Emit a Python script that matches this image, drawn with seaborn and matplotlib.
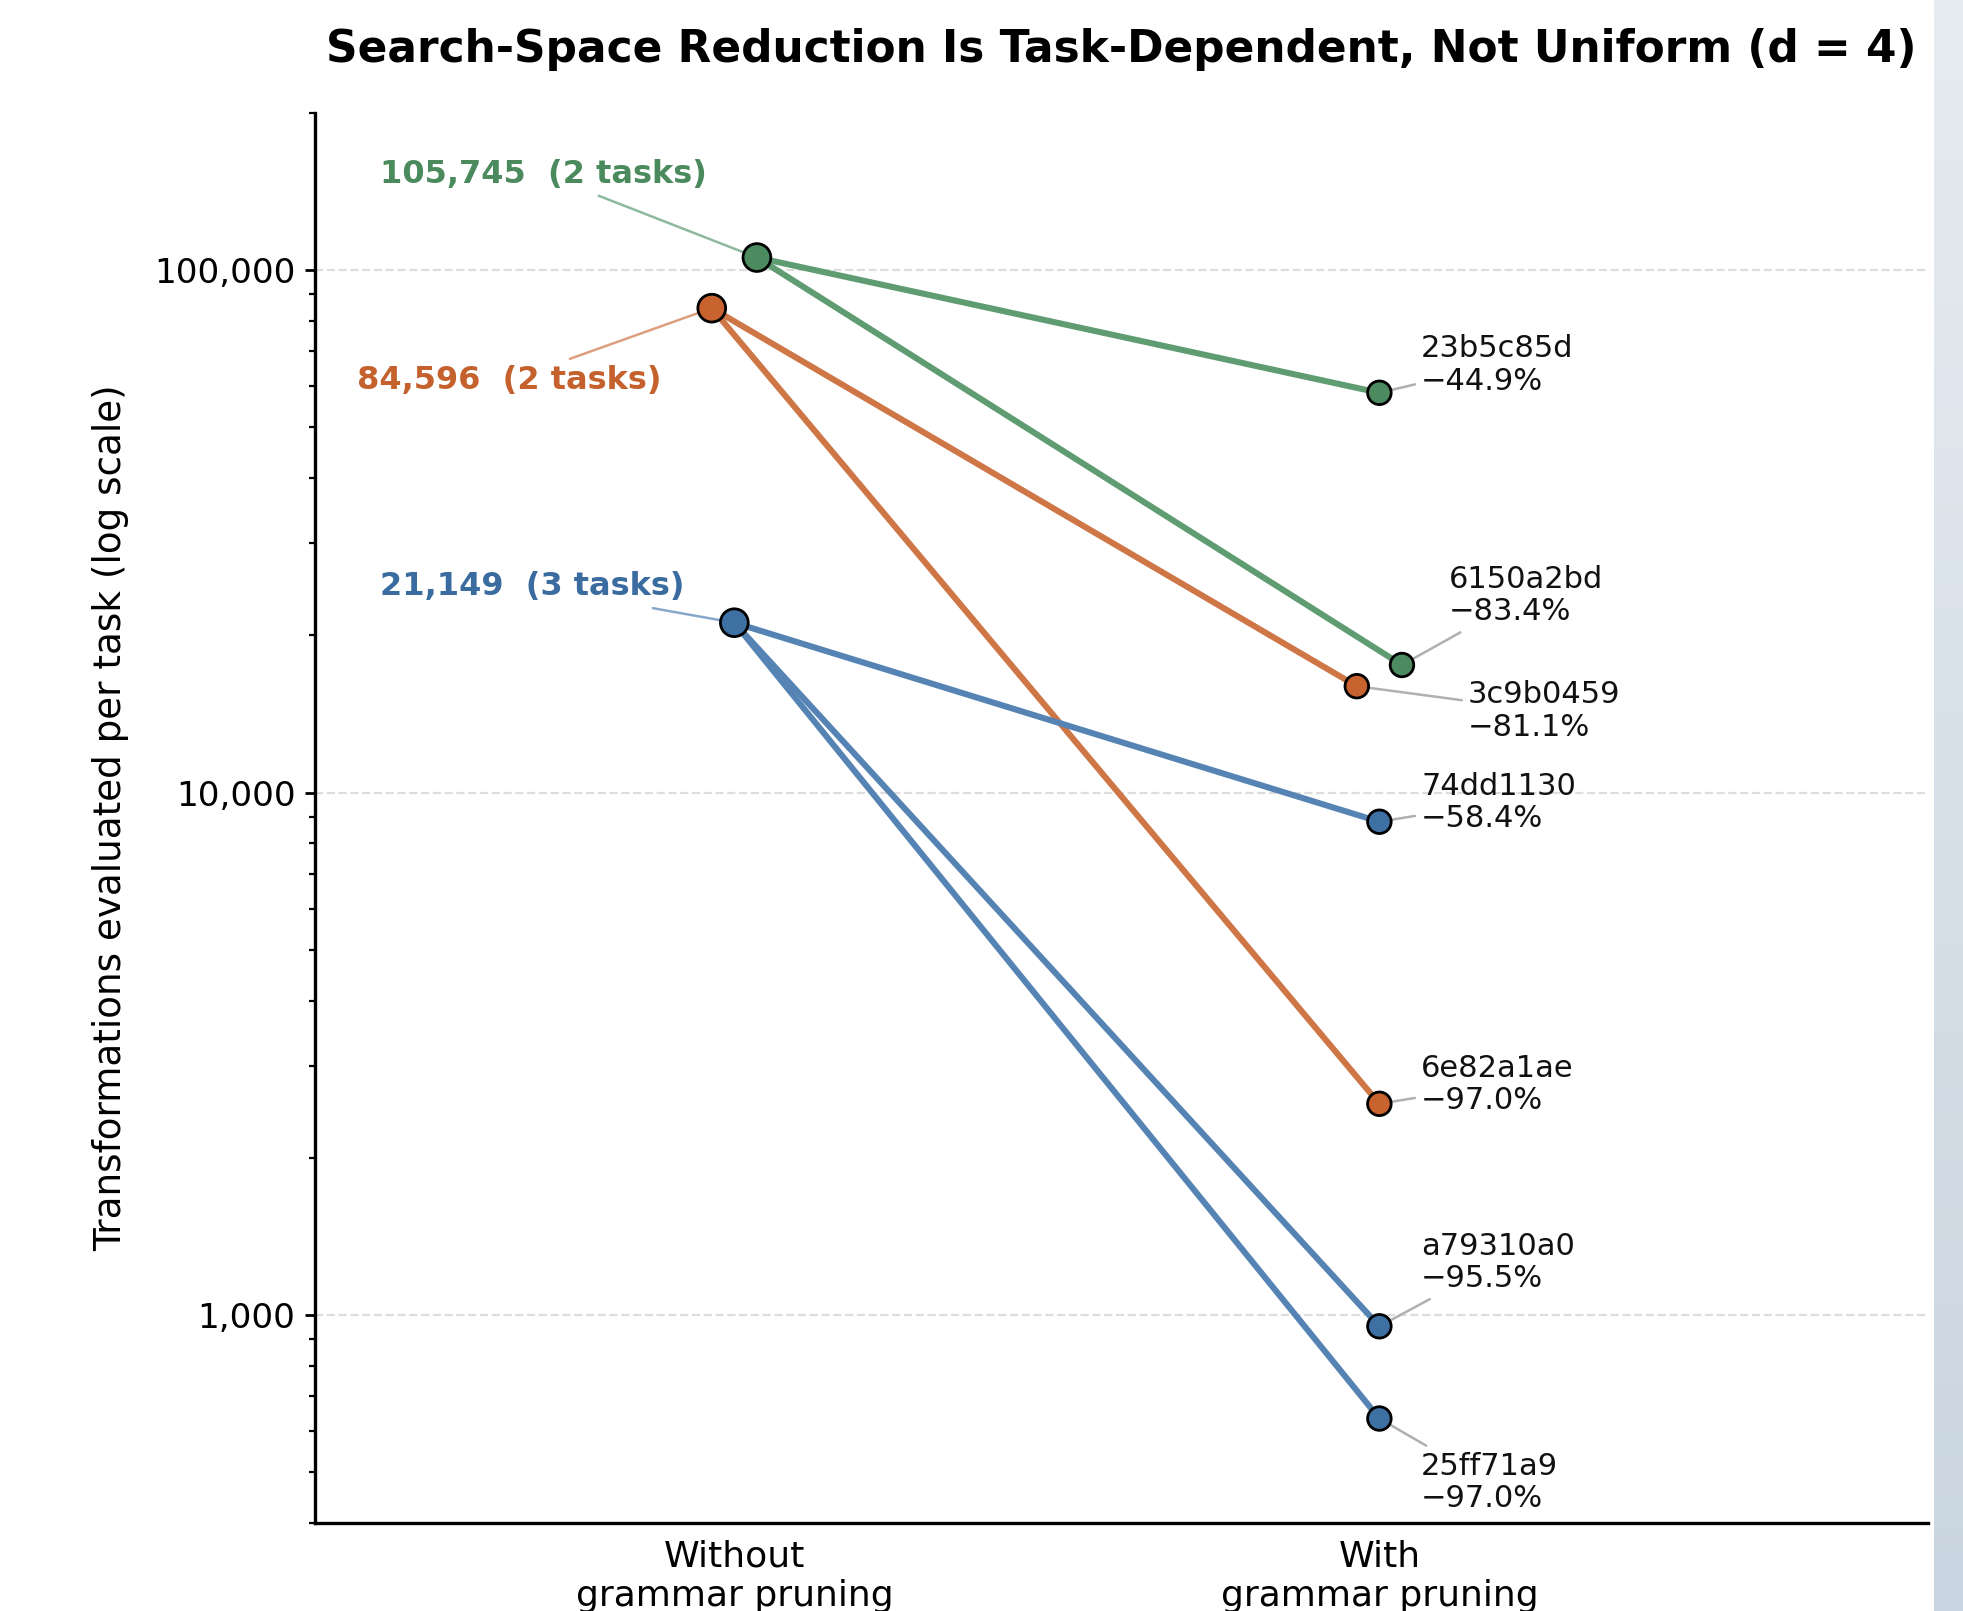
import numpy as np
import pandas as pd
import matplotlib
matplotlib.use('Agg')
import matplotlib.pyplot as plt
import seaborn as sns
from matplotlib.ticker import FuncFormatter, LogLocator, NullFormatter

# per-task values (d = 4)
tasks = ['23b5c85d', '6150a2bd', '3c9b0459', '6e82a1ae', '74dd1130', 'a79310a0', '25ff71a9']
groups = ['g105', 'g105', 'g84', 'g84', 'g21', 'g21', 'g21']
without_pruning = [105745, 105745, 84596, 84596, 21149, 21149, 21149]
with_pruning = [58265, 17554, 15989, 2538, 8798, 952, 634]
reduction_labels = ['\u221244.9%', '\u221283.4%', '\u221281.1%', '\u221297.0%', '\u221258.4%', '\u221295.5%', '\u221297.0%']

group_names = ['g105', 'g84', 'g21']
group_values = [105745, 84596, 21149]
group_task_counts = [2, 2, 3]
stage_labels = ['Without\ngrammar pruning', 'With\ngrammar pruning']

# styling
line_colors = {'g105': '#5f9c72', 'g84': '#cf7646', 'g21': '#5584b4'}
marker_colors = {'g105': '#4c8b5f', 'g84': '#c8622e', 'g21': '#3f70a4'}
text_colors = {'g105': '#4a8a5c', 'g84': '#c4612d', 'g21': '#3b6ca0'}
start_dodge = {'g105': 0.035, 'g84': -0.035, 'g21': 0.0}
end_dodge = {'6150a2bd': 0.035, '3c9b0459': -0.035}
end_text_offsets = {
    '23b5c85d': (15, 10), '6150a2bd': (17, 25), '3c9b0459': (40, -9),
    '6e82a1ae': (15, 7), '74dd1130': (15, 7), 'a79310a0': (15, 23), '25ff71a9': (15, -23),
}
start_text_offsets = {'g105': (-18, 30), 'g84': (-18, -26), 'g21': (-18, 13)}

sns.set_theme(style='ticks')
plt.rcParams['font.family'] = ['DejaVu Sans']
plt.rcParams['text.color'] = 'black'
plt.rcParams['axes.labelcolor'] = 'black'
plt.rcParams['xtick.color'] = 'black'
plt.rcParams['ytick.color'] = 'black'

rows = []
for t, g, a, b in zip(tasks, groups, without_pruning, with_pruning):
    rows.append({'task': t, 'group': g, 'x': 0 + start_dodge[g], 'value': a, 'stage': 'start'})
    rows.append({'task': t, 'group': g, 'x': 1 + end_dodge.get(t, 0.0), 'value': b, 'stage': 'end'})
df = pd.DataFrame(rows)

fig = plt.figure(figsize=(9.815, 8.055), dpi=200)
ax = fig.add_axes([0.1605, 0.0546, 0.8215, 0.8753])

ax.set_yscale('log')
sns.lineplot(data=df, x='x', y='value', hue='group', units='task', estimator=None,
             palette=line_colors, lw=2.2, sort=False, legend=False, ax=ax, zorder=2)

df_start = df[df.stage == 'start'].drop_duplicates('group')
df_end = df[df.stage == 'end']
sns.scatterplot(data=df_start, x='x', y='value', hue='group', palette=marker_colors,
                s=100, edgecolor='black', linewidth=1.0, legend=False, ax=ax, zorder=4)
sns.scatterplot(data=df_end, x='x', y='value', hue='group', palette=marker_colors,
                s=72, edgecolor='black', linewidth=1.0, legend=False, ax=ax, zorder=4)

# start labels
for g, v, n in zip(group_names, group_values, group_task_counts):
    x0 = 0 + start_dodge[g]
    ax.annotate(f'{v:,}  ({n} tasks)', xy=(x0, v), xytext=start_text_offsets[g],
                textcoords='offset points', ha='right', va='center', fontsize=11.5,
                fontweight='bold', color=text_colors[g],
                arrowprops=dict(arrowstyle='-', color=line_colors[g], lw=0.9, alpha=0.7,
                                shrinkA=0, shrinkB=4))

# end labels
for t, b, lab in zip(tasks, with_pruning, reduction_labels):
    x1 = 1 + end_dodge.get(t, 0.0)
    ax.annotate(f'{t}\n{lab}', xy=(x1, b), xytext=end_text_offsets[t],
                textcoords='offset points', ha='left', va='center', fontsize=11,
                color='#111111', linespacing=1.15,
                arrowprops=dict(arrowstyle='-', color='#b0b0b0', lw=0.9,
                                shrinkA=0, shrinkB=4))

ax.set_xlim(-0.65, 1.85)
ax.set_ylim(400, 200000)
ax.set_xticks([0, 1])
ax.set_xticklabels(stage_labels, fontsize=13)
ax.tick_params(axis='x', length=0, pad=6)
ax.yaxis.set_major_locator(LogLocator(base=10))
ax.yaxis.set_major_formatter(FuncFormatter(lambda v, _: f'{v:,.0f}'))
ax.yaxis.set_minor_formatter(NullFormatter())
ax.tick_params(axis='y', which='major', labelsize=12.3, length=3.5, width=1.0)
ax.tick_params(axis='y', which='minor', length=2, width=0.8)
ax.set_xlabel('')
ax.set_ylabel('Transformations evaluated per task (log scale)', fontsize=13.4, labelpad=9)
ax.grid(axis='y', which='major', color='#dddddd', ls='--', lw=0.8)
ax.set_axisbelow(True)
sns.despine(ax=ax)
for s in ['left', 'bottom']:
    ax.spines[s].set_linewidth(1.2)
    ax.spines[s].set_color('black')

ax.set_title('Search-Space Reduction Is Task-Dependent, Not Uniform (d = 4)',
             fontsize=15.8, fontweight='bold', color='black', pad=18.5)

# light grey strip on the right edge of the screenshot
strip = fig.add_axes([0.985, 0, 0.015, 1])
strip.imshow(np.linspace(0, 1, 100).reshape(-1, 1), aspect='auto',
             cmap=matplotlib.colors.LinearSegmentedColormap.from_list('s', ['#e6ebf0', '#c9d5e0']))
strip.axis('off')

fig.savefig('out.png', dpi=200)
